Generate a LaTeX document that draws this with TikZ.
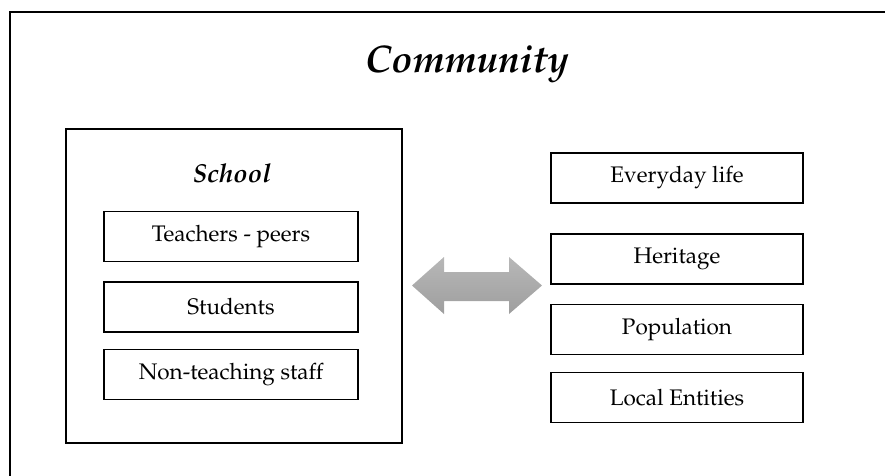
\documentclass[tikz,border=0pt]{standalone}
\usepackage[T1]{fontenc}
\usepackage{mathpazo}
\begin{document}
\begin{tikzpicture}[x=1pt,y=-1pt,
  itembox/.style={draw=black,line width=1.4pt,minimum width=254pt,minimum height=50pt,inner sep=0pt,font=\fontsize{22.5}{26}\selectfont},
  frameline/.style={draw=black,line width=1.4pt}]
\useasboundingbox (0,0) rectangle (885,475);
\draw[frameline] (10,480) -- (10,12) -- (890,12);
\node[font=\fontsize{38.5}{44}\selectfont\bfseries\itshape] (title) at (467,64) {Community};
\draw[frameline] (66,129) rectangle (402,443);
\node[font=\fontsize{26}{30}\selectfont\bfseries\itshape] (school) at (232,173) {School};
\node[itembox] (teach) at (231,236.5) {Teachers - peers};
\node[itembox] (stud) at (231,307) {Students};
\node[itembox] (staff) at (231,374.5) {Non-teaching staff};
\node[itembox,minimum width=252pt] (life) at (677,178) {Everyday life};
\node[itembox,minimum width=252pt] (herit) at (677,259) {Heritage};
\node[itembox,minimum width=252pt] (pop) at (677,329.5) {Population};
\node[itembox,minimum width=252pt] (local) at (677,397.5) {Local Entities};
\shade[top color=black!28,bottom color=black!38]
  (412,285.5) -- (444,257) -- (444,272) -- (509,272) -- (509,257) -- (542,285.5)
  -- (509,314) -- (509,301) -- (444,301) -- (444,314) -- cycle;
\end{tikzpicture}
\end{document}
